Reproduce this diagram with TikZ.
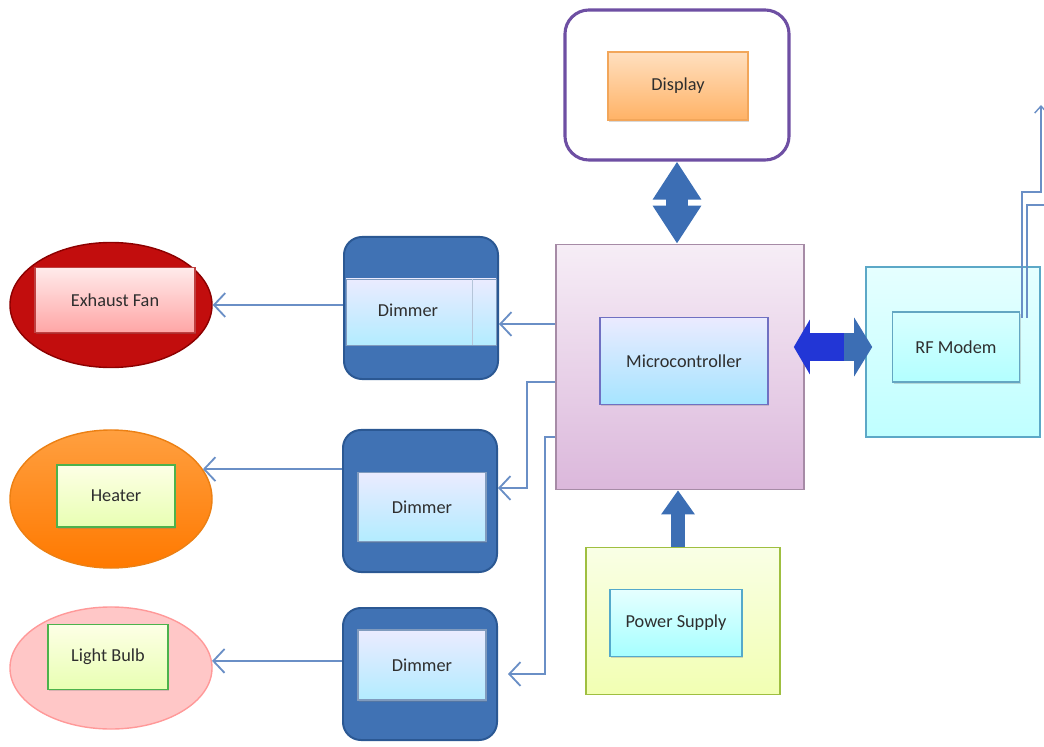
\documentclass[tikz,border=0pt]{standalone}
\usepackage{fontspec}
\setmainfont{Carlito}
\usetikzlibrary{arrows.meta,shapes.geometric,shadows}
\definecolor{wireBlue}{HTML}{6A8FC6}
\definecolor{fatBlue}{HTML}{3C6EB4}
\definecolor{deepBlue}{HTML}{2236D6}
\definecolor{dimBlue}{HTML}{4072B4}
\definecolor{dimEdge}{HTML}{2B5893}
\definecolor{dispEdge}{HTML}{6E4FA3}
\definecolor{textGray}{HTML}{2E2E2E}
\tikzstyle{innerBox}=[shape = rectangle, draw, line width = 0.8pt, inner sep = 0pt, font = \fontsize{13}{15}\selectfont, text = textGray, drop shadow = {shadow xshift = 0.8pt, shadow yshift = -1.2pt, opacity = 0.3}]
\tikzstyle{outerBox}=[shape = rectangle, draw, line width = 1.1pt, inner sep = 0pt]
\tikzstyle{dimmerBox}=[shape = rectangle, rounded corners = 0.45cm, draw = dimEdge, fill = dimBlue, line width = 1.4pt, minimum width = 3.85cm, inner sep = 0pt]
\tikzstyle{loadShape}=[shape = ellipse, minimum width = 5.05cm, line width = 1pt, inner sep = 0pt]
\tikzstyle{wire}=[draw = wireBlue, line width = 1.3pt, -{Straight Barb[length = 8pt, width = 17pt]}]

\begin{document}
\begin{tikzpicture}[x = 0.025cm, y = -0.025cm]
\useasboundingbox (0,0) rectangle (1044,747);
\tikzstyle{lightBand}=[top color = blue!8, bottom color = blue!25!cyan!30, draw = dimEdge!60]
\tikzstyle{greenLabel}=[innerBox, top color = green!8!yellow!10, bottom color = green!30!yellow!30, draw = green!40!gray]
% Display on top
\node[outerBox, rounded corners = 0.6cm, draw = dispEdge, line width = 2.2pt, fill = white, minimum width = 5.6cm, minimum height = 3.75cm] (dispOuter) at (677,85) {};
\node[innerBox, top color = orange!25, bottom color = orange!60, draw = orange!70!brown!70, minimum width = 3.5cm, minimum height = 1.7cm] (disp) at (678,86) {Display};
% Microcontroller
\node[outerBox, top color = violet!7, bottom color = violet!28, draw = violet!30!gray!70, minimum width = 6.2cm, minimum height = 6.125cm] (micro) at (680,367) {};
\node[innerBox, top color = blue!8, bottom color = blue!30!cyan!35, draw = blue!40!gray!80, minimum width = 4.2cm, minimum height = 2.175cm] (microIn) at (684,361) {Microcontroller};
% RF modem and antenna
\node[outerBox, top color = cyan!10, bottom color = cyan!25, draw = cyan!55!gray, minimum width = 4.35cm, minimum height = 4.25cm] (rf) at (953,352) {};
\node[innerBox, top color = cyan!15, bottom color = cyan!30, draw = cyan!50!gray, minimum width = 3.175cm, minimum height = 1.75cm] (rfIn) at (956,347) {RF Modem};
% Power supply
\node[outerBox, top color = yellow!10!lime!10, bottom color = yellow!30!lime!30, draw = lime!50!gray, minimum width = 4.85cm, minimum height = 3.675cm] (power) at (683,621) {};
\node[innerBox, top color = cyan!10, bottom color = cyan!35, draw = cyan!60!gray, minimum width = 3.3cm, minimum height = 1.675cm] (powerIn) at (676,623) {Power Supply};
% Dimmers
\node[dimmerBox, minimum height = 3.55cm] (dimA) at (421,308) {};
\node[lightBand, minimum width = 3.75cm, minimum height = 1.65cm, inner sep = 0pt] (dimBandA) at (421,312) {};
\draw[dimEdge!35] ([xshift = -0.6cm]dimBandA.north east) -- ([xshift = -0.6cm]dimBandA.south east);
\node[font = \fontsize{13}{15}\selectfont, text = textGray] (dimTextA) at (408,310) {Dimmer};
\node[dimmerBox, minimum height = 3.55cm] (dimB) at (420,501) {};
\node[innerBox, lightBand, minimum width = 3.2cm, minimum height = 1.725cm] (dimInB) at (422,507) {Dimmer};
\node[dimmerBox, minimum height = 3.3cm] (dimC) at (420,674) {};
\node[innerBox, lightBand, minimum width = 3.2cm, minimum height = 1.75cm] (dimInC) at (422,665) {Dimmer};
% Loads
\node[loadShape, fill = red!75!black!95, draw = red!55!black, minimum height = 3.125cm] (fan) at (111,305) {};
\node[innerBox, top color = red!8, bottom color = red!35, draw = red!50!gray, minimum width = 4cm, minimum height = 1.625cm] (fanIn) at (115,300) {Exhaust Fan};
\node[loadShape, top color = orange!75, bottom color = orange!95!red, draw = orange!70!brown, minimum height = 3.45cm] (heater) at (111,499) {};
\node[greenLabel, minimum width = 2.95cm, minimum height = 1.55cm] (heaterIn) at (116,496) {Heater};
\node[loadShape, fill = red!22, draw = red!40, minimum height = 3.05cm] (bulb) at (111,668) {};
\node[greenLabel, minimum width = 3cm, minimum height = 1.625cm] (bulbIn) at (108,657) {Light Bulb};
% Bends of the thin wires
\coordinate (tapA) at (530,324);
\coordinate (kneeB) at (527,382);
\coordinate (kneeC) at (545,437);
\coordinate (rfMid) at (843,347);
\coordinate (antFoot) at (1022,318);
\coordinate (antTop) at (1041,105);
\coordinate (antFootB) at (1027,318);
\coordinate (antEdge) at (1044,205);
% Thin wires
\draw[wire] (dimA.west |- fan.east) -- (fan.east);
\draw[wire] (dimB.west |- heater.18) -- (heater.18);
\draw[wire] (dimC.west |- bulb.4) -- (bulb.4);
\draw[wire] (micro.west |- tapA) -- (dimA.east |- tapA);
\draw[wire] (micro.west |- kneeB) -- (kneeB) |- ([yshift = 0.325cm]dimB.east);
\draw[wire] (micro.west |- kneeC) -- (kneeC) |- ([xshift = 0.25cm]dimC.east);
\draw[wire, line width = 1pt, -{Straight Barb[length = 5pt, width = 9pt]}] (antFoot) |- ([yshift = -2.175cm]antTop) -- (antTop);
\draw[draw = wireBlue, line width = 1pt] (antFootB) |- (antEdge);
% Fat arrows
\draw[fatBlue, line width = 0.55cm, {Triangle[length = 0.95cm, width = 1.15cm]}-{Triangle[length = 0.95cm, width = 1.15cm]}] (dispOuter.south) -- (micro.north -| dispOuter.south);
\draw[fatBlue, line width = 0.35cm, -{Triangle[length = 0.6cm, width = 0.8cm]}] (power.north -| disp.south) -- (micro.south -| disp.south);
\draw[fatBlue, line width = 0.675cm, -{Triangle[length = 0.45cm, width = 1.45cm]}] (rfMid) -- ([xshift = 0.175cm]rf.west |- rfMid);
\draw[deepBlue, line width = 0.675cm, -{Triangle[length = 0.4cm, width = 1.35cm]}] ([xshift = 0.02cm]rfMid) -- ([xshift = -0.275cm]micro.east |- rfMid);
\end{tikzpicture}
\end{document}
